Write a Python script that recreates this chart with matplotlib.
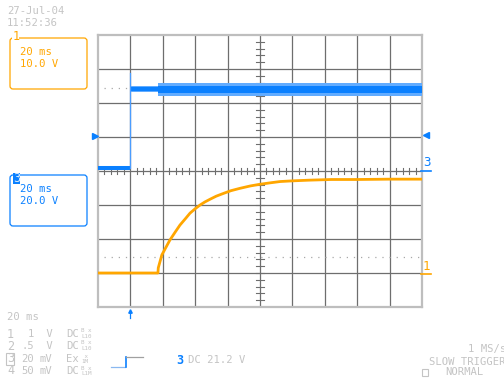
import matplotlib
matplotlib.use("Agg")
import matplotlib.pyplot as plt
from matplotlib.patches import FancyBboxPatch, Rectangle
from matplotlib.lines import Line2D

# ---------------- data (divisions) ----------------
# Channel 3 (blue): pre-trigger level, spike and post-step noisy band envelope
ch3_pre_t = [0.0, 1.0]
ch3_pre_v = [0.09, 0.09]
ch3_spike_t = [1.0, 1.0]
ch3_spike_v = [0.09, 2.88]
ch3_band_t = [1.0, 1.85, 1.85, 10.0]
ch3_core_hi = [2.48, 2.48, 2.51, 2.51]
ch3_core_lo = [2.35, 2.35, 2.30, 2.30]
ch3_fringe_hi = [2.51, 2.51, 2.58, 2.58]
ch3_fringe_lo = [2.31, 2.31, 2.21, 2.21]

# Channel 1 (orange): exponential-like rise
ch1_t = [0.0, 1.85, 1.86, 1.97, 2.10, 2.22, 2.38, 2.53, 2.70, 2.84, 3.00, 3.15, 3.30,
         3.46, 3.65, 3.87, 4.10, 4.38, 4.70, 5.0, 5.30, 5.62, 6.0, 6.5, 7.2, 8.0, 9.0, 10.0]
ch1_v = [-3.0, -3.0, -2.85, -2.47, -2.24, -2.03, -1.80, -1.59, -1.40, -1.24, -1.11, -1.00, -0.91,
         -0.83, -0.74, -0.66, -0.58, -0.51, -0.44, -0.39, -0.35, -0.31, -0.29, -0.27, -0.25, -0.25, -0.24, -0.24]

ref_dots_low = -2.53
ref_dots_high = 2.44

header_lines = ["27-Jul-04", "11:52:36"]
ch1_box = ["20 ms", "10.0 V"]
ch3_box = ["20 ms", "20.0 V"]
timebase = "20 ms"
chan_rows = [("1", "1", " V", "DC", "B x", "L10"),
             ("2", ".5", " V", "DC", "B x", "L10"),
             ("3", "20", "mV", "Ex", " x", "1M"),
             ("4", "50", "mV", "DC", "B x", "L1M")]
trig_text = "DC 21.2 V"
right_text = ["1 MS/s", "SLOW TRIGGER", "NORMAL"]

# ---------------- style ----------------
ORANGE = "#FFA600"
BLUE = "#0A80FF"
GREY_TXT = "#C4C4C4"
GRID = "#6E6E6E"
FRAME = "#BEBEBE"
MONO = ["DejaVu Sans Mono"]
FS = 7.6

W, H = 504, 379
fig = plt.figure(figsize=(W / 100, H / 100), dpi=100)
fig.patch.set_facecolor("white")

L, T, R, B = 98, 35, 422, 307
ax = fig.add_axes([L / W, (H - B) / H, (R - L) / W, (B - T) / H])
ax.set_xlim(0, 10)
ax.set_ylim(-4, 4)
ax.set_xticks([])
ax.set_yticks([])
for s in ax.spines.values():
    s.set_color(FRAME)
    s.set_linewidth(1.6)

for x in range(1, 10):
    ax.axvline(x, color=GRID, lw=0.9, zorder=1)
for y in range(-3, 4):
    ax.axhline(y, color=GRID, lw=0.9, zorder=1)

# center ticks
for i in range(1, 50):
    xx = i * 0.2
    if i % 5:
        ax.plot([xx, xx], [-0.09, 0.09], color=GRID, lw=0.8, zorder=1)
for i in range(1, 40):
    yy = -4 + i * 0.2
    ax.plot([4.89, 5.11], [yy, yy], color=GRID, lw=0.8, zorder=1)

# reference dotted lines
ax.plot([0.2, 10], [ref_dots_low] * 2, color="#A8A8A8", lw=0.9,
        linestyle=(0, (1, 4.7)), zorder=2)
ax.plot([0.2, 1.0], [ref_dots_high] * 2, color="#A8A8A8", lw=0.9,
        linestyle=(0, (1, 4.7)), zorder=2)

# channel 3 traces
ax.fill_between(ch3_band_t, ch3_fringe_lo, ch3_fringe_hi, color="#62ACFF", lw=0, zorder=3)
ax.fill_between(ch3_band_t, ch3_core_lo, ch3_core_hi, color=BLUE, lw=0, zorder=4)
ax.plot(ch3_pre_t, ch3_pre_v, color=BLUE, lw=2.9, solid_capstyle="butt", zorder=4)
ax.plot(ch3_spike_t, ch3_spike_v, color="#4A9CFF", lw=0.9, zorder=4)

# channel 1 trace
ax.plot(ch1_t, ch1_v, color=ORANGE, lw=2.0, zorder=5)

# ---------------- annotations in pixel space ----------------
def P(x, y):
    return x / 100, (H - y) / 100

tr = fig.dpi_scale_trans

def txt(x, y, s, color=GREY_TXT, size=FS, ha="left", **kw):
    fig.text(*P(x, y), s, transform=tr, color=color, fontsize=size, ha=ha,
             va="center", family=MONO, **kw)

txt(7, 11, header_lines[0])
txt(7, 23, header_lines[1])

# channel 1 box
x0, y0, x1, y1 = 10, 38, 87, 89
fig.patches.append(FancyBboxPatch(P(x0, y1), (x1 - x0) / 100, (y1 - y0) / 100,
                                  boxstyle="round,pad=0,rounding_size=0.03",
                                  transform=tr, fc="none", ec=ORANGE, lw=0.9))
fig.patches.append(Rectangle(P(12, 43), 0.07, 0.1, transform=tr, fc="white", ec="none"))
txt(12.5, 37, "1", color=ORANGE, size=8.5)
txt(20, 52, ch1_box[0], color=ORANGE)
txt(20, 64, ch1_box[1], color=ORANGE)

# channel 3 box
x0, y0, x1, y1 = 10, 175, 87, 226
fig.patches.append(FancyBboxPatch(P(x0, y1), (x1 - x0) / 100, (y1 - y0) / 100,
                                  boxstyle="round,pad=0,rounding_size=0.03",
                                  transform=tr, fc="none", ec=BLUE, lw=0.9))
fig.patches.append(Rectangle(P(13, 184), 0.07, 0.11, transform=tr, fc=BLUE, ec="none"))
txt(13.6, 178.5, "3", color="#D8ECFF", size=8.5)
txt(20, 189, ch3_box[0], color=BLUE)
txt(20, 201, ch3_box[1], color=BLUE)

# right side markers
txt(423, 162, "3", color=BLUE, size=9)
fig.lines.append(Line2D([4.21, 4.31], [(H - 171) / 100] * 2, transform=tr, color=BLUE, lw=1.2))
txt(423, 266, "1", color=ORANGE, size=9)
fig.lines.append(Line2D([4.21, 4.31], [(H - 274) / 100] * 2, transform=tr, color=ORANGE, lw=1.2))

# trigger level arrows
fig.lines.append(Line2D([0.95], [(H - 136) / 100], transform=tr, marker=">", color=BLUE,
                        markersize=4, lw=0))
fig.lines.append(Line2D([4.26], [(H - 135) / 100], transform=tr, marker="<", color=BLUE,
                        markersize=4, lw=0))
# trigger position arrow
fig.lines.append(Line2D([1.30, 1.30], [(H - 318) / 100, (H - 311) / 100], transform=tr,
                        color=BLUE, lw=0.9))
fig.lines.append(Line2D([1.30], [(H - 311) / 100], transform=tr, marker="^", color=BLUE,
                        markersize=2.5, lw=0))

# bottom-left info
txt(7, 317, timebase)
row_y = [334, 346, 359, 371]
for (n, val, unit, cpl, sup, sub), yy in zip(chan_rows, row_y):
    txt(7, yy, n, size=8.5)
    txt(34, yy, val, ha="right")
    txt(40, yy, unit)
    txt(66, yy, cpl)
    txt(81, yy - 3, sup, size=4.2)
    txt(81, yy + 2.5, sub, size=4.2)
fig.patches.append(Rectangle(P(6, 365), 0.08, 0.12, transform=tr, fc="none", ec=GREY_TXT, lw=0.8))

# trigger step symbol
fig.lines.append(Line2D([1.11, 1.25], [(H - 367) / 100] * 2, transform=tr, color="#8AB8F0", lw=0.9))
fig.lines.append(Line2D([1.26, 1.26], [(H - 367) / 100, (H - 357) / 100], transform=tr, color=BLUE, lw=1.2))
fig.lines.append(Line2D([1.26, 1.43], [(H - 357) / 100] * 2, transform=tr, color="#A0A0A0", lw=0.9))
txt(176, 360, "3", color=BLUE, size=8.5, fontweight="bold")
txt(188, 360, trig_text)

# bottom-right info (cut at the right edge as in the reference)
txt(506, 349, right_text[0], ha="right")
txt(506, 362, right_text[1], ha="right")
fig.patches.append(Rectangle(P(422, 376), 0.06, 0.07, transform=tr, fc="none", ec=GREY_TXT, lw=0.8))
txt(445, 372, right_text[2])

fig.savefig("out.png", dpi=100)
